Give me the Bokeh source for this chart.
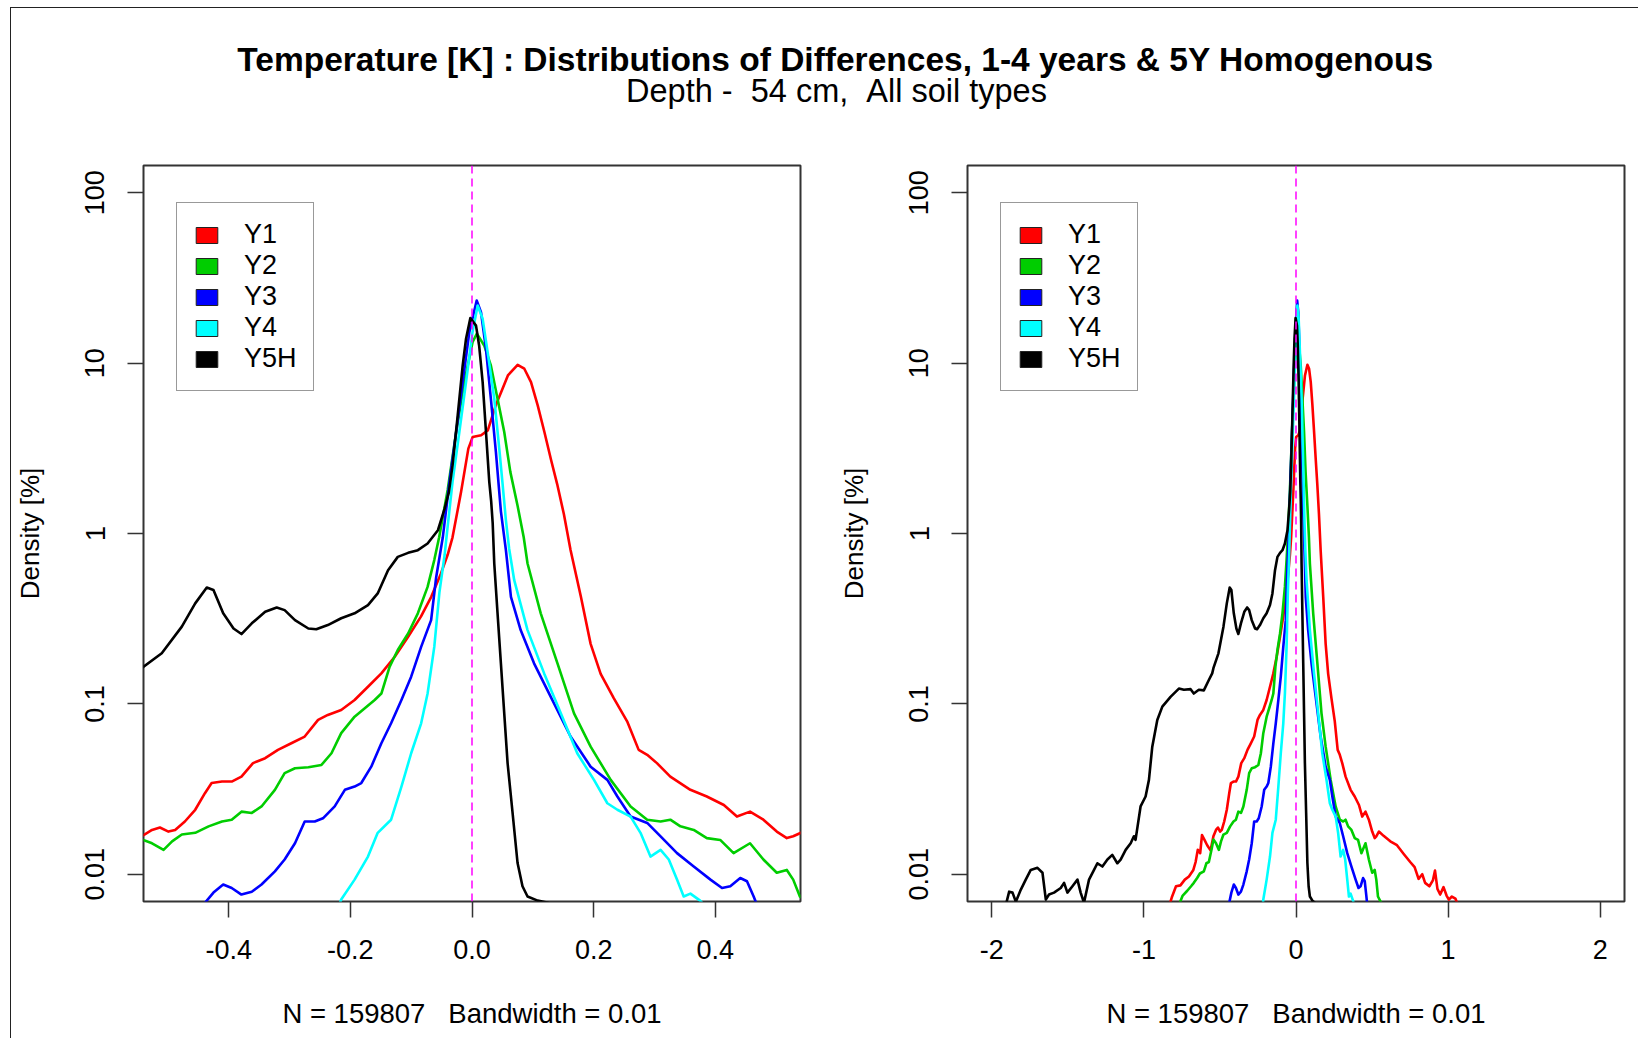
from bokeh.plotting import figure
from bokeh.models import Range1d, FixedTicker, Span, Legend, LegendItem, Label
from bokeh.layouts import column, row
from bokeh.embed import file_html
from bokeh.resources import INLINE

# ---------------- texts ----------------
TITLE = "Temperature [K] : Distributions of Differences, 1-4 years & 5Y Homogenous"
SUBTITLE = "Depth - \u00a054 cm, \u00a0All soil types"
X_LABEL = "N = 159807 \u00a0 Bandwidth = 0.01"
Y_LABEL = "Density [%]"

SERIES_NAMES = ["Y1", "Y2", "Y3", "Y4", "Y5H"]
SERIES_COLORS = ["#FF0000", "#00CD00", "#0000FF", "#00FFFF", "#000000"]

Y_TICKS = [0.01, 0.1, 1, 10, 100]
Y_TICK_LABELS = ["0.01", "0.1", "1", "10", "100"]
LEFT_X_TICKS = [-0.4, -0.2, 0.0, 0.2, 0.4]
LEFT_X_TICK_LABELS = ["-0.4", "-0.2", "0.0", "0.2", "0.4"]
RIGHT_X_TICKS = [-2, -1, 0, 1, 2]
RIGHT_X_TICK_LABELS = ["-2", "-1", "0", "1", "2"]

LEFT_XLIM = (-0.54, 0.54)
RIGHT_XLIM = (-2.16, 2.16)
YLIM = (10 ** -2.16, 10 ** 2.16)

# ---------------- density curves (x, density %) ----------------
Y1 = [(-0.834, 0.0065), (-0.817, 0.0073), (-0.789, 0.0085), (-0.760, 0.0086), (-0.731, 0.0093),
      (-0.704, 0.0097), (-0.675, 0.0106), (-0.660, 0.0118), (-0.646, 0.0139), (-0.630, 0.0133),
      (-0.618, 0.0170), (-0.600, 0.0158), (-0.584, 0.0148), (-0.562, 0.0138), (-0.543, 0.0167),
      (-0.526, 0.0182), (-0.513, 0.0188), (-0.499, 0.0178), (-0.488, 0.0182), (-0.472, 0.0204),
      (-0.455, 0.0239), (-0.439, 0.0299), (-0.428, 0.0343), (-0.411, 0.0350), (-0.395, 0.0350),
      (-0.379, 0.0374), (-0.360, 0.0449), (-0.340, 0.0480), (-0.319, 0.0537), (-0.297, 0.0587),
      (-0.275, 0.0643), (-0.253, 0.0805), (-0.237, 0.0861), (-0.215, 0.0921), (-0.193, 0.1054),
      (-0.171, 0.126), (-0.149, 0.151), (-0.127, 0.189), (-0.105, 0.248), (-0.084, 0.325),
      (-0.067, 0.425), (-0.051, 0.583), (-0.040, 0.75), (-0.032, 0.95), (-0.018, 1.75),
      (-0.006, 3.15), (0.001, 3.68), (0.015, 3.77), (0.026, 4.03), (0.039, 5.65), (0.048, 6.76),
      (0.059, 8.47), (0.075, 9.78), (0.086, 9.27), (0.097, 7.74), (0.108, 5.65), (0.119, 3.94),
      (0.130, 2.70), (0.140, 1.95), (0.151, 1.30), (0.162, 0.80), (0.179, 0.425), (0.195, 0.225),
      (0.2115, 0.150), (0.233, 0.108), (0.255, 0.0790), (0.274, 0.0537), (0.288, 0.0502),
      (0.304, 0.0449), (0.326, 0.0374), (0.359, 0.0313), (0.386, 0.0286), (0.414, 0.0255),
      (0.4355, 0.0218), (0.457, 0.0233), (0.479, 0.0209), (0.501, 0.0178), (0.5175, 0.0163),
      (0.528, 0.0167), (0.545, 0.0178), (0.576, 0.0168), (0.620, 0.0156), (0.664, 0.0148),
      (0.707, 0.0132), (0.751, 0.0118), (0.780, 0.0110), (0.806, 0.0094), (0.830, 0.0100),
      (0.849, 0.0089), (0.877, 0.0085), (0.900, 0.0092), (0.914, 0.0105), (0.930, 0.0082),
      (0.948, 0.0076), (0.970, 0.0084), (0.990, 0.0075), (1.005, 0.0071), (1.025, 0.0074),
      (1.048, 0.0072), (1.070, 0.0064)]

Y2 = [(-0.770, 0.0066), (-0.745, 0.0075), (-0.715, 0.0080), (-0.690, 0.0085), (-0.672, 0.0089),
      (-0.650, 0.0095), (-0.632, 0.0101), (-0.606, 0.0104), (-0.589, 0.0116), (-0.573, 0.0118),
      (-0.555, 0.0140), (-0.543, 0.0160), (-0.526, 0.0152), (-0.507, 0.0139), (-0.493, 0.0156),
      (-0.477, 0.0171), (-0.455, 0.0175), (-0.433, 0.0191), (-0.411, 0.0204), (-0.395, 0.0209),
      (-0.379, 0.0233), (-0.362, 0.0229), (-0.346, 0.0250), (-0.324, 0.0313), (-0.308, 0.0392),
      (-0.291, 0.0419), (-0.269, 0.0425), (-0.2475, 0.0438), (-0.231, 0.0513), (-0.215, 0.0673),
      (-0.193, 0.0841), (-0.160, 0.1054), (-0.149, 0.115), (-0.1355, 0.165), (-0.122, 0.207),
      (-0.105, 0.259), (-0.089, 0.340), (-0.073, 0.486), (-0.062, 0.698), (-0.054, 0.95),
      (-0.040, 1.8), (-0.026, 3.94), (-0.0126, 7.74), (0.001, 13.3), (0.008, 14.9), (0.020, 12.7),
      (0.031, 9.7), (0.042, 6.18), (0.053, 3.94), (0.063, 2.3), (0.075, 1.45), (0.085, 0.95),
      (0.0913, 0.667), (0.113, 0.340), (0.1405, 0.173), (0.1677, 0.088), (0.195, 0.0561),
      (0.228, 0.0358), (0.2607, 0.0250), (0.288, 0.0209), (0.310, 0.0204), (0.326, 0.0209),
      (0.3426, 0.0191), (0.3645, 0.0182), (0.386, 0.0163), (0.408, 0.0159), (0.430, 0.0133),
      (0.457, 0.0152), (0.479, 0.0122), (0.501, 0.0102), (0.5175, 0.0106), (0.528, 0.0093),
      (0.539, 0.0074), (0.560, 0.0068), (0.580, 0.0062)]

Y3 = [(-0.445, 0.0064), (-0.439, 0.0068), (-0.425, 0.0078), (-0.409, 0.0087), (-0.395, 0.0083),
      (-0.379, 0.0076), (-0.362, 0.0079), (-0.346, 0.0087), (-0.324, 0.0104), (-0.308, 0.0122),
      (-0.291, 0.0152), (-0.275, 0.0204), (-0.2585, 0.0204), (-0.245, 0.0213), (-0.2257, 0.0250),
      (-0.209, 0.0313), (-0.193, 0.0327), (-0.182, 0.0343), (-0.1656, 0.0428), (-0.149, 0.0587),
      (-0.133, 0.0769), (-0.116, 0.1054), (-0.100, 0.1444), (-0.0836, 0.216), (-0.0672, 0.310),
      (-0.059, 0.55), (-0.048, 0.95), (-0.037, 2.01), (-0.026, 3.94), (-0.0153, 7.74),
      (-0.0044, 15.2), (0.0077, 23.3), (0.0148, 19.9), (0.023, 12.1), (0.031, 6.18),
      (0.0393, 3.0), (0.0475, 1.35), (0.0557, 0.80), (0.064, 0.425), (0.080, 0.271),
      (0.102, 0.173), (0.1295, 0.110), (0.162, 0.0643), (0.195, 0.0428), (0.2225, 0.0358),
      (0.239, 0.0286), (0.2607, 0.0218), (0.288, 0.0200), (0.310, 0.0167), (0.337, 0.0133),
      (0.3645, 0.0111), (0.392, 0.0093), (0.411, 0.0083), (0.4246, 0.0085), (0.441, 0.0095),
      (0.452, 0.0091), (0.463, 0.0074), (0.470, 0.0064)]

Y4 = [(-0.220, 0.0064), (-0.215, 0.0071), (-0.193, 0.0093), (-0.171, 0.0127), (-0.155, 0.0175),
      (-0.133, 0.0209), (-0.116, 0.0327), (-0.100, 0.0513), (-0.0836, 0.0769), (-0.073, 0.115),
      (-0.062, 0.216), (-0.0536, 0.45), (-0.045, 0.75), (-0.040, 1.1), (-0.032, 2.01),
      (-0.0208, 3.94), (-0.0098, 7.74), (0.0008, 15.2), (0.0093, 21.8), (0.0175, 18.2),
      (0.0257, 11.6), (0.0366, 6.18), (0.0448, 3.15), (0.050, 2.0), (0.0557, 1.2), (0.061, 0.817),
      (0.0694, 0.532), (0.0913, 0.271), (0.1186, 0.151), (0.146, 0.088), (0.173, 0.0513),
      (0.2005, 0.0358), (0.2225, 0.0261), (0.239, 0.0239), (0.2607, 0.0218), (0.277, 0.0175),
      (0.2934, 0.0127), (0.310, 0.0139), (0.3235, 0.0122), (0.337, 0.0093), (0.348, 0.0074),
      (0.359, 0.0077), (0.375, 0.0070), (0.385, 0.0064)]

Y5H = [(-1.930, 0.0060), (-1.908, 0.0066), (-1.886, 0.0079), (-1.864, 0.0078), (-1.842, 0.0069),
       (-1.810, 0.0081), (-1.777, 0.0093), (-1.744, 0.0106), (-1.700, 0.0109), (-1.667, 0.0102),
       (-1.645, 0.0071), (-1.624, 0.0076), (-1.591, 0.0078), (-1.547, 0.0083), (-1.525, 0.0089),
       (-1.503, 0.0078), (-1.470, 0.0085), (-1.437, 0.0093), (-1.416, 0.0078), (-1.394, 0.0068),
       (-1.361, 0.0093), (-1.328, 0.0106), (-1.306, 0.0116), (-1.273, 0.0111), (-1.240, 0.0122),
       (-1.208, 0.0130), (-1.175, 0.0116), (-1.153, 0.0122), (-1.120, 0.0139), (-1.087, 0.0152),
       (-1.066, 0.0167), (-1.055, 0.0159), (-1.022, 0.0250), (-0.989, 0.0286), (-0.967, 0.0358),
       (-0.945, 0.0561), (-0.912, 0.0805), (-0.879, 0.0964), (-0.825, 0.110), (-0.770, 0.123),
       (-0.737, 0.121), (-0.693, 0.122), (-0.672, 0.115), (-0.639, 0.121), (-0.606, 0.120),
       (-0.573, 0.138), (-0.551, 0.151), (-0.543, 0.162), (-0.510, 0.198), (-0.477, 0.284),
       (-0.455, 0.389), (-0.436, 0.482), (-0.425, 0.466), (-0.409, 0.340), (-0.392, 0.277),
       (-0.379, 0.257), (-0.362, 0.297), (-0.340, 0.347), (-0.321, 0.368), (-0.308, 0.355),
       (-0.291, 0.310), (-0.269, 0.277), (-0.256, 0.274), (-0.237, 0.290), (-0.215, 0.318),
       (-0.193, 0.340), (-0.171, 0.380), (-0.155, 0.445), (-0.138, 0.609), (-0.122, 0.729),
       (-0.105, 0.770), (-0.089, 0.798), (-0.073, 0.873), (-0.056, 1.045), (-0.045, 1.40),
       (-0.038, 1.75), (-0.032, 2.51), (-0.0235, 4.94), (-0.0153, 9.7), (-0.0098, 13.9),
       (-0.0027, 18.4), (0.0066, 16.6), (0.0117, 12.7), (0.0175, 7.74), (0.023, 3.94),
       (0.0284, 2.01), (0.0315, 1.55), (0.034, 1.15), (0.0366, 0.667), (0.042, 0.340),
       (0.0475, 0.173), (0.053, 0.088), (0.0585, 0.0449), (0.0667, 0.0229), (0.0749, 0.01164),
       (0.083, 0.0085), (0.0913, 0.0074), (0.108, 0.0070), (0.125, 0.0068), (0.140, 0.0060)]

SERIES_DATA = [Y1, Y2, Y3, Y4, Y5H]

# ---------------- styling constants ----------------
FONT = "Liberation Sans"
TEXT = "#000000"
FRAME = "#333333"

PANEL_H = 910
FRAME_H = 736
TOP_B = 37
BOTTOM_B = PANEL_H - TOP_B - FRAME_H


def make_panel(xlim, xticks, xlabels, width, b_left, frame_w):
    p = figure(width=width, height=PANEL_H,
               x_range=Range1d(*xlim), y_range=Range1d(*YLIM),
               y_axis_type="log", output_backend="svg", toolbar_location=None,
               min_border_left=b_left, min_border_right=width - b_left - frame_w,
               min_border_top=TOP_B, min_border_bottom=BOTTOM_B)
    p.grid.visible = False
    p.background_fill_color = "white"
    p.border_fill_color = "white"
    p.outline_line_color = FRAME
    p.outline_line_width = 2

    for name, color, data in zip(SERIES_NAMES, SERIES_COLORS, SERIES_DATA):
        xs = [d[0] for d in data]
        ys = [d[1] for d in data]
        p.line(xs, ys, line_color=color, line_width=2.6, line_join="round", line_cap="round")

    items = []
    for name, color in zip(SERIES_NAMES, SERIES_COLORS):
        # swatch renderer: a single zero-size rect far below the visible range
        r = p.rect(x=[0], y=[1e-9], width=0, height=0, fill_color=color,
                   line_color="#222222", line_width=1)
        items.append(LegendItem(label=name, renderers=[r]))

    p.add_layout(Span(location=0, dimension="height", line_color="#FF00FF",
                      line_dash="8 5", line_width=1.5))

    legend = Legend(items=items, location=(33, 510), padding=16, spacing=0,
                    glyph_width=27, glyph_height=20, label_height=31, label_standoff=24,
                    label_text_font=FONT, label_text_font_size="27px",
                    label_text_color=TEXT, border_line_color=FRAME, border_line_width=1.5,
                    background_fill_color="white", background_fill_alpha=1.0, margin=0)
    p.add_layout(legend)

    xa = p.xaxis[0]
    xa.ticker = FixedTicker(ticks=xticks)
    xa.major_label_overrides = dict(zip(xticks, xlabels))
    ya = p.yaxis[0]
    ya.ticker = FixedTicker(ticks=Y_TICKS)
    ya.major_label_overrides = dict(zip(Y_TICKS, Y_TICK_LABELS))
    ya.major_label_orientation = "parallel"
    for ax in (xa, ya):
        ax.axis_line_color = None
        ax.major_tick_line_color = FRAME
        ax.major_tick_line_width = 1.5
        ax.major_tick_out = 16
        ax.major_tick_in = 0
        ax.minor_tick_line_color = None
        ax.major_label_text_font = FONT
        ax.major_label_text_font_size = "27px"
        ax.major_label_text_color = TEXT
        ax.axis_label_text_font = FONT
        ax.axis_label_text_font_style = "normal"
        ax.axis_label_text_color = TEXT
    xa.major_label_standoff = 22
    xa.axis_label = X_LABEL
    xa.axis_label_text_font_size = "27.5px"
    xa.axis_label_standoff = 36
    ya.major_label_standoff = 23
    ya.axis_label = Y_LABEL
    ya.axis_label_text_font_size = "26px"
    ya.axis_label_standoff = 38
    return p


left = make_panel(LEFT_XLIM, LEFT_X_TICKS, LEFT_X_TICK_LABELS, width=824, b_left=130, frame_w=659)
right = make_panel(RIGHT_XLIM, RIGHT_X_TICKS, RIGHT_X_TICK_LABELS, width=803, b_left=131, frame_w=658)

TITLE_W, TITLE_H = 1627, 120
top = figure(width=TITLE_W, height=TITLE_H, x_range=Range1d(0, TITLE_W), y_range=Range1d(0, TITLE_H),
             output_backend="svg", toolbar_location=None, min_border=0)
top.axis.visible = False
top.grid.visible = False
top.outline_line_color = None
top.background_fill_color = "white"
top.border_fill_color = "white"
top.add_layout(Label(x=824, y=69, text=TITLE, text_font=FONT, text_font_style="bold",
                     text_font_size="33.5px", text_align="center", text_baseline="middle",
                     text_color=TEXT))
top.add_layout(Label(x=825, y=38, text=SUBTITLE, text_font=FONT, text_font_size="32.5px",
                     text_align="center", text_baseline="middle", text_color=TEXT))

page = column(top, row(left, right), margin=(7, 0, 0, 10),
              styles={"border-left": "1px solid #222222", "border-top": "1px solid #222222"})

with open("out.html", "w") as f:
    f.write(file_html(page, INLINE))
